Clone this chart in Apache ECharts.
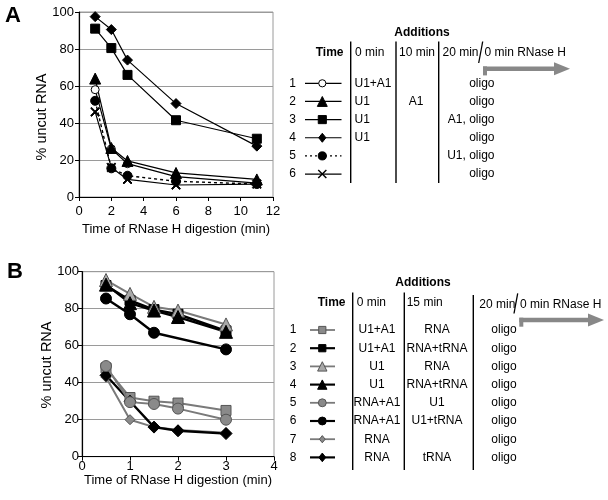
<!DOCTYPE html>
<html><head><meta charset="utf-8">
<script src="https://cdn.jsdelivr.net/npm/echarts@6/dist/echarts.min.js"></script>
<style>html,body{margin:0;padding:0;background:#fff}#c{width:608px;height:500px}</style>
</head><body><div id="c"></div>
<script>
// ---------- Panel A data ----------
const aTimes = [1, 2, 3, 6, 11];
const aS1 = [58, 26, 18, 11, 7.5];      // open circle
const aS2 = [64, 26.5, 19.5, 13, 9.5];  // triangle
const aS3 = [91, 80.5, 66, 41.5, 31.5]; // square
const aS4 = [97.5, 90.5, 74, 50.5, 27.5]; // diamond
const aS5 = [52, 15.5, 11.5, 8.5, 7];   // filled circle, dotted
const aS6 = [46, 16, 9.5, 6.5, 7];      // cross
const aXTicks = [0, 2, 4, 6, 8, 10, 12];
const aCol0 = ['U1+A1', 'U1', 'U1', 'U1', '', ''];
const aCol1 = ['', 'A1', '', '', '', ''];
const aCol2 = ['oligo', 'oligo', 'A1, oligo', 'oligo', 'U1, oligo', 'oligo'];
const aHeads = ['0 min', '10 min', '20 min', '0 min RNase H'];

// ---------- Panel B data ----------
const bTimes = [0.5, 1, 1.5, 2, 3];
const bTimes6 = [0.5, 1, 1.5, 3];
const bS1 = [48, 32, 30, 29, 25];         // grey square
const bS2 = [92.5, 84.5, 79.5, 77, 68];   // black square
const bS3 = [95.5, 88, 81, 79, 71.5];     // grey triangle
const bS4 = [93, 83, 79, 75.5, 67.5];     // black triangle
const bS5 = [49, 29.5, 28.5, 26, 20];     // grey circle
const bS6 = [85.5, 77, 67, 58];           // black circle
const bS7 = [43, 20, 16, 14.5, 13];       // grey diamond
const bS8 = [44, 30, 16, 14, 12.5];       // black diamond
const bCol0 = ['U1+A1', 'U1+A1', 'U1', 'U1', 'RNA+A1', 'RNA+A1', 'RNA', 'RNA'];
const bCol1 = ['RNA', 'RNA+tRNA', 'RNA', 'RNA+tRNA', 'U1', 'U1+tRNA', '', 'tRNA'];
const bCol2 = ['oligo', 'oligo', 'oligo', 'oligo', 'oligo', 'oligo', 'oligo', 'oligo'];
const bHeads = ['0 min', '15 min', '20 min', '0 min RNase H'];

const yTicks = [0, 20, 40, 60, 80, 100];
const FONT = '"Liberation Sans", Arial, sans-serif';
const GREY = '#8a8a8a', GREYLINE = '#7a7a7a', GREYEDGE = '#555';
const CROSS = 'path://M0,1 L1,0 L5,4 L9,0 L10,1 L6,5 L10,9 L9,10 L5,6 L1,10 L0,9 L4,5 Z';

function pairs(xs, ys) { return xs.map((x, i) => [x, ys[i]]); }

const aStyles = [
  {sym: 'circle', size: 8, fill: '#fff', edge: '#000', lc: '#000', lw: 1.2, lt: 'solid', z: 3},
  {sym: 'triangle', size: 11, fill: '#000', edge: '#000', lc: '#000', lw: 1.2, lt: 'solid', z: 3},
  {sym: 'rect', size: 9, fill: '#000', edge: '#000', lc: '#000', lw: 1.2, lt: 'solid', z: 3},
  {sym: 'diamond', size: 10, fill: '#000', edge: '#000', lc: '#000', lw: 1.2, lt: 'solid', z: 3},
  {sym: 'circle', size: 9, fill: '#000', edge: '#000', lc: '#000', lw: 1.4, lt: [3, 3], z: 3},
  {sym: CROSS, size: 9, fill: '#000', edge: '#000', lc: '#000', lw: 1.2, lt: 'solid', z: 3}
];
const bStyles = [
  {sym: 'rect', size: 10, fill: GREY, edge: GREYEDGE, lc: GREYLINE, lw: 2, lt: 'solid', z: 3},
  {sym: 'rect', size: 10, fill: '#000', edge: '#000', lc: '#000', lw: 2.4, lt: 'solid', z: 3},
  {sym: 'triangle', size: 13, fill: '#a8a8a8', edge: GREYEDGE, lc: GREYLINE, lw: 2, lt: 'solid', z: 3},
  {sym: 'triangle', size: 13, fill: '#000', edge: '#000', lc: '#000', lw: 2.4, lt: 'solid', z: 3},
  {sym: 'circle', size: 11, fill: GREY, edge: GREYEDGE, lc: GREYLINE, lw: 2, lt: 'solid', z: 4},
  {sym: 'circle', size: 11, fill: '#000', edge: '#000', lc: '#000', lw: 2.4, lt: 'solid', z: 3},
  {sym: 'diamond', size: 10, fill: GREY, edge: GREYEDGE, lc: GREYLINE, lw: 2, lt: 'solid', z: 3},
  {sym: 'diamond', size: 12, fill: '#000', edge: '#000', lc: '#000', lw: 2.4, lt: 'solid', z: 3}
];
const aData = [aS1, aS2, aS3, aS4, aS5, aS6].map(s => pairs(aTimes, s));
const bData = [pairs(bTimes, bS1), pairs(bTimes, bS2), pairs(bTimes, bS3), pairs(bTimes, bS4),
               pairs(bTimes, bS5), pairs(bTimes6, bS6), pairs(bTimes, bS7), pairs(bTimes, bS8)];

function mkSeries(data, st, idx, name) {
  return {
    type: 'line', name: name, xAxisIndex: idx, yAxisIndex: idx, data: data,
    symbol: st.sym, symbolSize: st.size, showAllSymbol: true,
    itemStyle: {color: st.fill, borderColor: st.edge, borderWidth: 1},
    lineStyle: {color: st.lc, width: st.lw, type: st.lt},
    emphasis: {disabled: true}, animation: false, z: st.z
  };
}
const series = [];
aData.forEach((d, i) => series.push(mkSeries(d, aStyles[i], 0, 'A' + (i + 1))));
bData.forEach((d, i) => series.push(mkSeries(d, bStyles[i], 1, 'B' + (i + 1))));

function xAx(idx, max, interval, margin) {
  return {
    type: 'value', gridIndex: idx, min: 0, max: max, interval: interval,
    axisLine: {show: true, lineStyle: {color: '#000', width: 1.2}},
    axisTick: {show: true, length: 4, lineStyle: {color: '#000'}},
    axisLabel: {fontSize: 13, fontFamily: FONT, color: '#000', margin: margin},
    splitLine: {show: false},
    name: 'Time of RNase H digestion (min)', nameLocation: 'middle',
    nameGap: idx === 0 ? 26 : 17,
    nameTextStyle: {fontSize: 13, fontFamily: FONT, color: '#000'}
  };
}
function yAx(idx, margin) {
  return {
    type: 'value', gridIndex: idx, min: 0, max: 100, interval: 20,
    axisLine: {show: true, lineStyle: {color: '#000', width: 1.2}},
    axisTick: {show: true, length: 4, lineStyle: {color: '#000'}},
    axisLabel: {fontSize: 13, fontFamily: FONT, color: '#000', margin: margin},
    splitLine: {show: true, lineStyle: {color: '#9a9a9a', width: 1}}
  };
}

// ---------- graphic helpers ----------
const G = [];
function txt(x, y, t, align, opt) {
  opt = opt || {};
  G.push({type: 'text', x: x, y: y, rotation: opt.rot || 0, z: 10, style: {
    text: t, fill: '#000', fontSize: opt.size || 12, fontFamily: FONT,
    fontWeight: opt.bold ? 'bold' : 'normal', align: align, verticalAlign: 'middle'}});
}
function seg(x1, y1, x2, y2, color, w, dash) {
  G.push({type: 'line', z: 10, shape: {x1, y1, x2, y2},
    style: {stroke: color, lineWidth: w, lineDash: dash || null}});
}
function marker(st, cx, cy, scale) {
  const s = st.size * scale, h = s / 2;
  const style = {fill: st.fill, stroke: st.edge, lineWidth: 1};
  if (st.sym === 'circle') G.push({type: 'circle', z: 11, shape: {cx, cy, r: h}, style});
  else if (st.sym === 'rect') G.push({type: 'rect', z: 11, shape: {x: cx - h, y: cy - h, width: s, height: s}, style});
  else if (st.sym === 'triangle') G.push({type: 'polygon', z: 11, shape: {points: [[cx, cy - h], [cx + h, cy + h], [cx - h, cy + h]]}, style});
  else if (st.sym === 'diamond') G.push({type: 'polygon', z: 11, shape: {points: [[cx, cy - h], [cx + h * 0.8, cy], [cx, cy + h], [cx - h * 0.8, cy]]}, style});
  else { seg(cx - h, cy - h, cx + h, cy + h, '#000', 1.4); seg(cx - h, cy + h, cx + h, cy - h, '#000', 1.4); }
}
function arrow(x0, yc, x1) {
  G.push({type: 'rect', z: 10, shape: {x: x0, y: yc - 2.3, width: x1 - 14 - x0, height: 4.6}, style: {fill: '#888'}});
  G.push({type: 'rect', z: 10, shape: {x: x0, y: yc - 2.3, width: 4, height: 9}, style: {fill: '#888'}});
  G.push({type: 'polygon', z: 10, shape: {points: [[x1 - 16, yc - 6.5], [x1, yc], [x1 - 16, yc + 6.5]]}, style: {fill: '#888'}});
}

// Panel labels
txt(13, 16, 'A', 'center', {size: 22, bold: true});
txt(15, 272, 'B', 'center', {size: 22, bold: true});
// Y titles
txt(42, 117, '% uncut RNA', 'center', {size: 14.5, rot: Math.PI / 2});
txt(47, 365, '% uncut RNA', 'center', {size: 14.5, rot: Math.PI / 2});

// ---- Table A ----
txt(422, 32.5, 'Additions', 'center', {bold: true});
txt(343.5, 53, 'Time', 'right', {bold: true});
txt(355, 53, aHeads[0], 'left');
txt(399, 53, aHeads[1], 'left');
txt(442.5, 53, aHeads[2], 'left');
txt(484.5, 53, aHeads[3], 'left');
seg(350.7, 41.5, 350.7, 183, '#000', 1.4);
seg(396, 41.5, 396, 183, '#000', 1.4);
seg(438.7, 41.5, 438.7, 183, '#000', 1.4);
seg(482.7, 41.5, 478.7, 63, '#000', 1.3);
arrow(483, 68.7, 570);
aCol0.forEach((t, i) => {
  const y = 83.3 + i * 18.15;
  txt(296, y, String(i + 1), 'right');
  const st = aStyles[i];
  seg(305, y, 341.5, y, '#000', 1.2, st.lt === 'solid' ? null : [2, 3]);
  marker(st, 322.3, y, 0.9);
  if (t) txt(354.5, y, t, 'left');
  if (aCol1[i]) txt(416, y, aCol1[i], 'center');
  txt(494.5, y, aCol2[i], 'right');
});

// ---- Table B ----
txt(423, 282.5, 'Additions', 'center', {bold: true});
txt(345.5, 303, 'Time', 'right', {bold: true});
txt(356.7, 303, bHeads[0], 'left');
txt(406.7, 303, bHeads[1], 'left');
txt(479.3, 304.5, bHeads[2], 'left');
txt(520, 304.5, bHeads[3], 'left');
seg(352.7, 292.5, 352.7, 470, '#000', 1.4);
seg(404.3, 292.5, 404.3, 470, '#000', 1.4);
seg(473.3, 295, 473.3, 470, '#000', 1.4);
seg(517.7, 293.3, 514, 313.5, '#000', 1.3);
arrow(519.3, 320, 604);
bCol0.forEach((t, i) => {
  const y = 330 + i * 18.2;
  txt(296.5, y, String(i + 1), 'right');
  const st = bStyles[i];
  seg(310, y, 335, y, st.lc, st.lw * 0.9);
  marker(st, 322.3, y, 0.72);
  txt(377, y, t, 'center');
  if (bCol1[i]) txt(437, y, bCol1[i], 'center');
  txt(504, y, bCol2[i], 'center');
});

const chart = echarts.init(document.getElementById('c'), null, {renderer: 'canvas'});
chart.setOption({
  animation: false,
  backgroundColor: '#fff',
  grid: [
    {left: 79, width: 194, top: 12, height: 185, show: true, borderColor: '#9a9a9a', borderWidth: 1, backgroundColor: 'transparent'},
    {left: 82, width: 192, top: 271.7, height: 185, show: true, borderColor: '#9a9a9a', borderWidth: 1, backgroundColor: 'transparent'}
  ],
  xAxis: [xAx(0, 12, 2, 8), xAx(1, 4, 1, 3)],
  yAxis: [yAx(0, 5), yAx(1, 3)],
  series: series,
  graphic: G
});
</script></body></html>
